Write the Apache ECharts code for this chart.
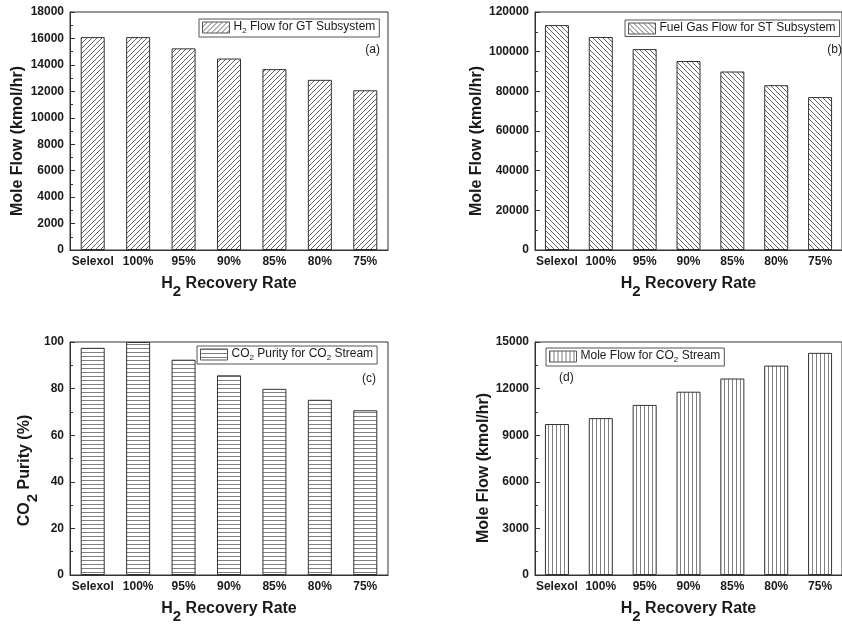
<!DOCTYPE html>
<html>
<head>
<meta charset="utf-8">
<script src="https://cdn.jsdelivr.net/npm/echarts@6/dist/echarts.min.js"></script>
<style>html,body{margin:0;padding:0;background:#fff}#c{width:842px;height:625px}</style>
</head>
<body>
<div id="c"></div>
<script>
// ---- data ----
const categories = ['Selexol', '100%', '95%', '90%', '85%', '80%', '75%'];
const h2FlowGT = [16100, 16100, 15250, 14480, 13680, 12870, 12080];
const fuelGasST = [113400, 107400, 101300, 95300, 90000, 83100, 77100];
const co2Purity = [97.5, 100, 92.4, 85.7, 79.9, 75.2, 70.7];
const co2MoleFlow = [9720, 10100, 10950, 11800, 12650, 13480, 14300];
// y-axis ranges [min, max, interval]
const rangeA = [0, 18000, 2000];
const rangeB = [0, 120000, 20000];
const rangeC = [0, 100, 20];
const rangeD = [0, 15000, 3000];

const FONT = 'Liberation Sans, Arial, sans-serif';
const INK = '#1a1a1a';
const LINE = '#333';

function makePattern(kind) {
  const c = document.createElement('canvas');
  const s = kind === 'fwd' || kind === 'back' ? 5 : 4;
  c.width = s; c.height = s;
  const g = c.getContext('2d');
  g.fillStyle = '#fff'; g.fillRect(0, 0, s, s);
  g.strokeStyle = kind === 'fwd' || kind === 'back' ? '#666' : '#808080';
  g.lineWidth = 1;
  g.beginPath();
  if (kind === 'fwd') {
    g.moveTo(-1, s + 1); g.lineTo(s + 1, -1);
    g.moveTo(-1, 1); g.lineTo(1, -1);
    g.moveTo(s - 1, s + 1); g.lineTo(s + 1, s - 1);
  } else if (kind === 'back') {
    g.moveTo(-1, -1); g.lineTo(s + 1, s + 1);
    g.moveTo(s - 1, -1); g.lineTo(s + 1, 1);
    g.moveTo(-1, s - 1); g.lineTo(1, s + 1);
  } else if (kind === 'h') {
    g.moveTo(0, 0.5); g.lineTo(s, 0.5);
  } else {
    g.moveTo(0.5, 0); g.lineTo(0.5, s);
  }
  g.stroke();
  return { image: c, repeat: 'repeat' };
}

const grids = [
  { left: 70, top: 12, width: 318, height: 238 },
  { left: 535, top: 12, width: 320, height: 238 },
  { left: 70, top: 342, width: 318, height: 238 },
  { left: 535, top: 342, width: 320, height: 238 }
].map(g => Object.assign({ show: true, borderColor: LINE, borderWidth: 1, backgroundColor: 'transparent' }, g));

const nameRich = {
  n: { fontSize: 16, fontWeight: 'bold', fontFamily: FONT, color: INK, lineHeight: 18, verticalAlign: 'top' },
  s: { fontSize: 15, fontWeight: 'bold', fontFamily: FONT, color: INK, lineHeight: 10, padding: [8, 0, 0, 0], verticalAlign: 'top' }
};

function xAxis(i) {
  return {
    type: 'category', gridIndex: i, data: categories, boundaryGap: true, z: 5,
    name: '{n|H}{s|2}{n| Recovery Rate}', nameLocation: 'middle', nameGap: 26,
    nameTextStyle: { rich: nameRich },
    axisLine: { lineStyle: { color: LINE, width: 1 } },
    axisTick: { inside: true, alignWithLabel: true, length: 4, lineStyle: { color: LINE } },
    axisLabel: { fontSize: 12, fontWeight: 'bold', fontFamily: FONT, color: INK, margin: 6, interval: 0 },
    splitLine: { show: false }
  };
}
function yAxis(i, range, name, gap, shift) {
  return {
    type: 'value', gridIndex: i, min: range[0], max: range[1], interval: range[2],
    name: name, nameLocation: 'middle', nameGap: gap, nameRotate: 90, z: 5,
    nameTextStyle: { rich: nameRich, padding: [0, shift, 0, 0] },
    axisLine: { show: true, lineStyle: { color: LINE, width: 1 } },
    axisTick: { show: true, inside: true, length: 5, lineStyle: { color: LINE } },
    minorTick: { show: true, splitNumber: 2, length: 3, lineStyle: { color: LINE } },
    axisLabel: { fontSize: 12, fontWeight: 'bold', fontFamily: FONT, color: INK, margin: 6, formatter: v => String(v) },
    splitLine: { show: false }
  };
}

const names = ['H2 Flow for GT Subsystem', 'Fuel Gas Flow for ST Subsystem', 'CO2 Purity for CO2 Stream', 'Mole Flow for CO2 Stream'];
const legendLabels = [
  '{n|H}{s|2}{n| Flow for GT Subsystem}',
  '{n|Fuel Gas Flow for ST Subsystem}',
  '{n|CO}{s|2}{n| Purity for CO}{s|2}{n| Stream}',
  '{n|Mole Flow for CO}{s|2}{n| Stream}'
];
const legendPos = [[199, 19], [625, 20], [197, 346], [546, 348]];
const patterns = [makePattern('fwd'), makePattern('back'), makePattern('h'), makePattern('v')];
const values = [h2FlowGT, fuelGasST, co2Purity, co2MoleFlow];

const legendRich = {
  n: { fontSize: 12, fontFamily: FONT, color: INK, lineHeight: 13, verticalAlign: 'top' },
  s: { fontSize: 8, fontFamily: FONT, color: INK, lineHeight: 7, padding: [6, 0, 0, 0], verticalAlign: 'top' }
};

const option = {
  animation: false,
  backgroundColor: '#fff',
  grid: grids,
  xAxis: [0, 1, 2, 3].map(xAxis),
  yAxis: [
    yAxis(0, rangeA, '{n|Mole Flow (kmol/hr)}', 42, 20),
    yAxis(1, rangeB, '{n|Mole Flow (kmol/hr)}', 45, 20),
    yAxis(2, rangeC, '{n|CO}{s|2}{n| Purity (%)}', 21, 24),
    yAxis(3, rangeD, '{n|Mole Flow (kmol/hr)}', 41, 19)
  ],
  legend: [0, 1, 2, 3].map(i => ({
    data: [names[i]], left: legendPos[i][0], top: legendPos[i][1],
    orient: 'horizontal', icon: 'rect', itemWidth: 27, itemHeight: 11,
    padding: [2, 4, 2, 3], borderColor: '#555', borderWidth: 1,
    selectedMode: false,
    itemStyle: { borderColor: '#555', borderWidth: 1 },
    formatter: () => legendLabels[i],
    textStyle: { rich: legendRich, padding: [0, 0, 0, -1] }
  })),
  series: [0, 1, 2, 3].map(i => ({
    type: 'bar', name: names[i], xAxisIndex: i, yAxisIndex: i,
    data: values[i], barWidth: 24,
    itemStyle: { color: patterns[i], borderColor: '#333', borderWidth: 1 },
    z: 1
  })),
  graphic: [
    ['(a)', 380, 50], ['(b)', 842, 50], ['(c)', 376, 379], ['(d)', 559, 378]
  ].map((t, k) => ({
    type: 'text', x: t[1], y: t[2],
    style: { text: t[0], font: '12px ' + FONT, fill: INK, align: k === 3 ? 'left' : 'right', verticalAlign: 'middle' }
  }))
};

const chart = echarts.init(document.getElementById('c'), null, { renderer: 'canvas' });
chart.setOption(option);
</script>
</body>
</html>
